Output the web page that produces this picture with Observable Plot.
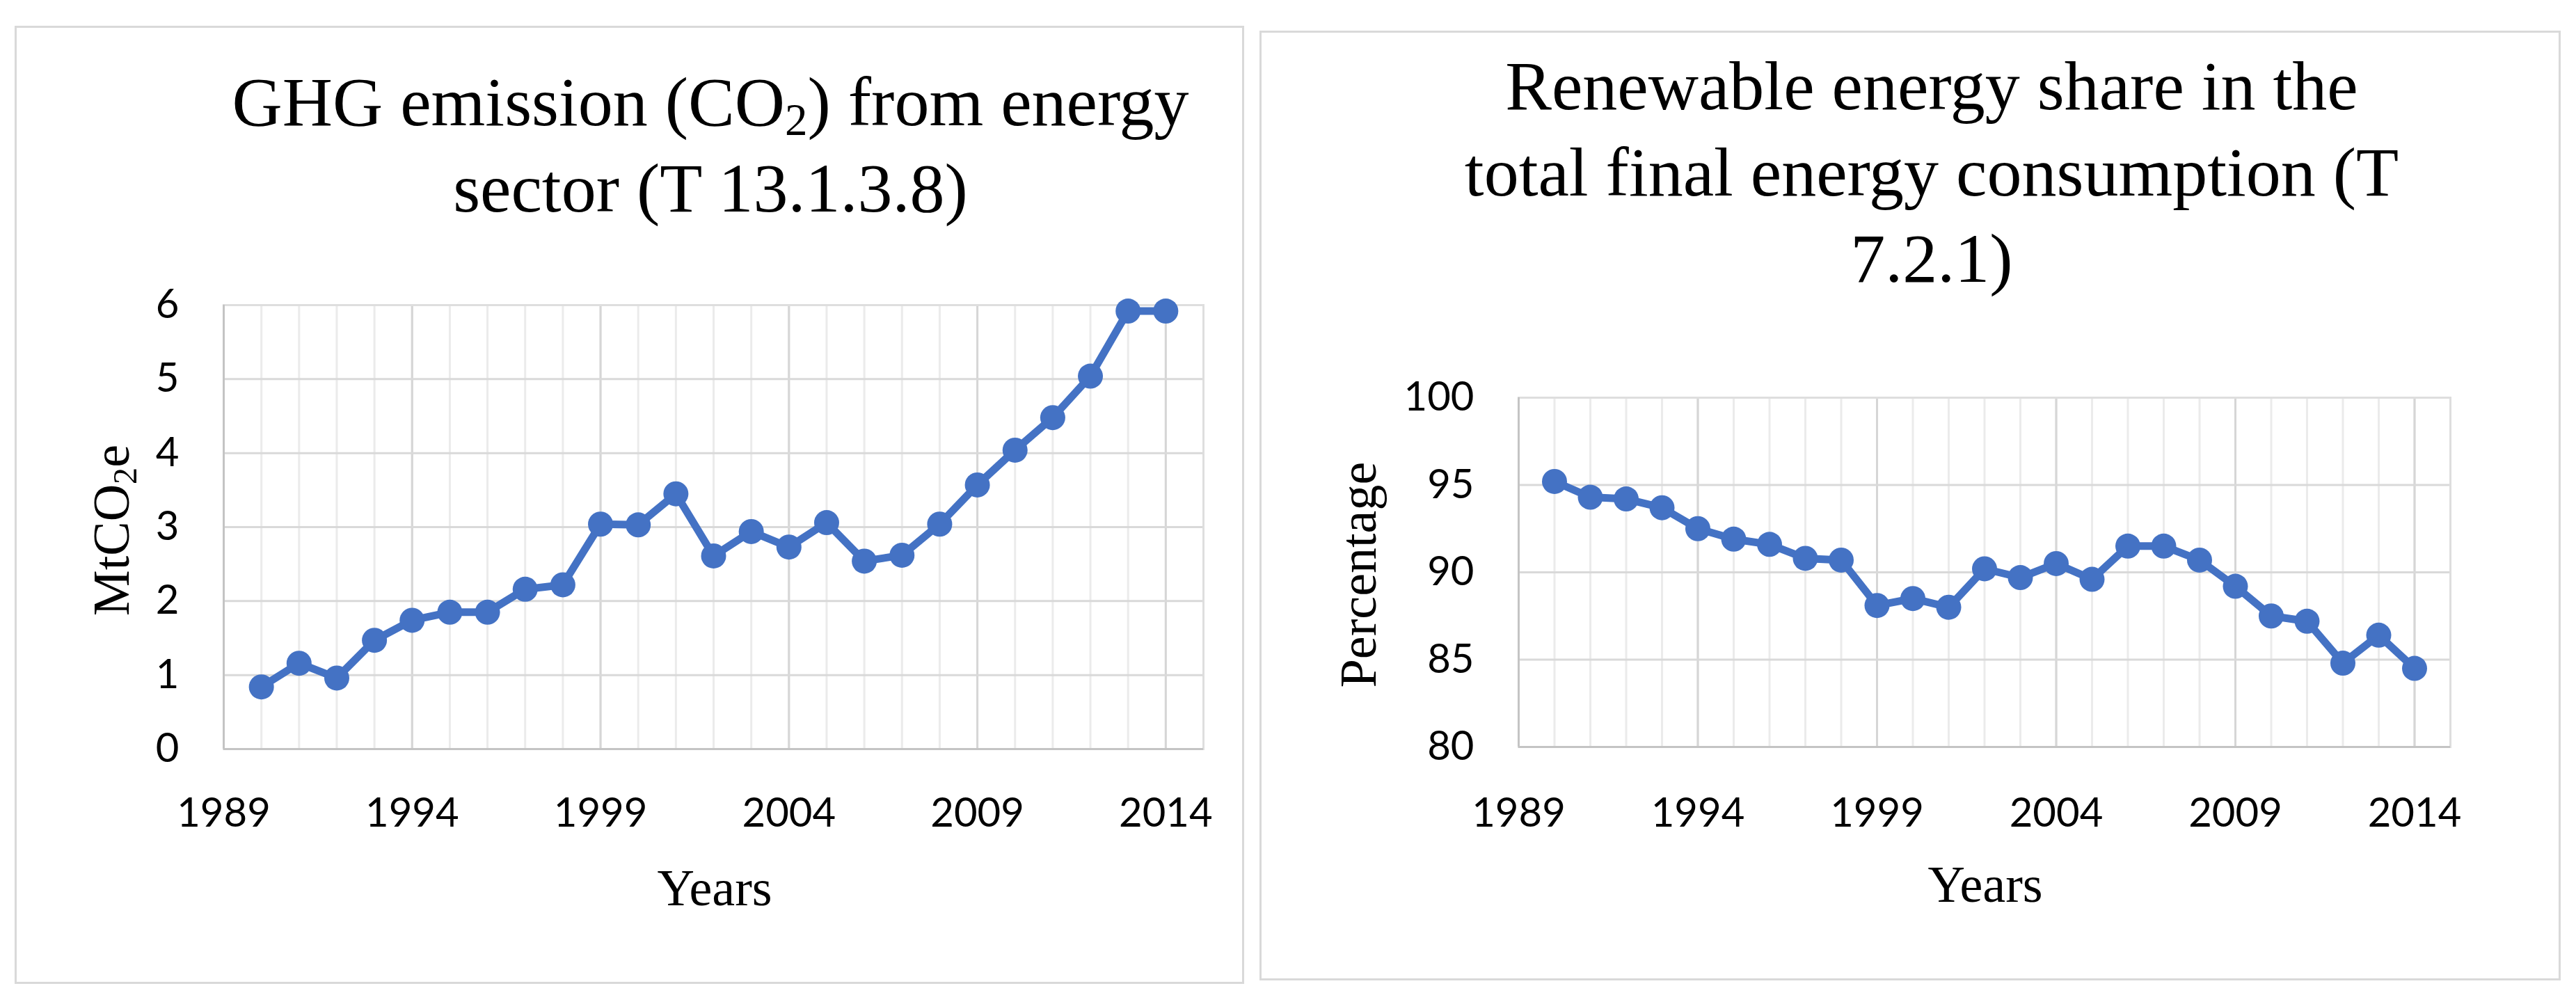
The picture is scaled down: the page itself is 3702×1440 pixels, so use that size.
<!DOCTYPE html>
<html>
<head>
<meta charset="utf-8">
<script src="https://cdn.jsdelivr.net/npm/d3@7"></script>
<script src="https://cdn.jsdelivr.net/npm/@observablehq/plot@0.6"></script>
<style>
html,body{margin:0;padding:0;background:#fff;}
#page{position:relative;width:3702px;height:1440px;overflow:hidden;background:#fff;}
.panel{position:absolute;border:3px solid #d9d9d9;box-sizing:border-box;}
.title{position:absolute;font-family:"Liberation Serif",serif;font-size:100px;line-height:124px;text-align:center;color:#000;white-space:nowrap;transform:translateX(-50%);}
.axt{position:absolute;font-family:"Liberation Serif",serif;font-size:74px;line-height:1;color:#000;white-space:nowrap;transform:translate(-50%,-50%);}
.rot{transform:translate(-50%,-50%) rotate(-90deg);}
sub{font-size:65%;line-height:0;position:relative;top:0.22em;vertical-align:baseline;}
.chart{position:absolute;}
</style>
</head>
<body>
<div id="page">
  <div class="panel" style="left:21px;top:37px;width:1767px;height:1377px;"></div>
  <div class="panel" style="left:1810px;top:44px;width:1870px;height:1365px;"></div>
  <div class="title" style="left:1021px;top:85px;">GHG emission (CO<sub>2</sub>) from energy<br>sector (T 13.1.3.8)</div>
  <div class="title" style="left:2776px;top:62px;">Renewable energy share in the<br>total final energy consumption (T<br>7.2.1)</div>
  <div class="axt rot" style="left:160px;top:762px;">MtCO<sub>2</sub>e</div>
  <div class="axt rot" style="left:1952px;top:826px;">Percentage</div>
  <div class="axt" style="left:1027px;top:1276px;">Years</div>
  <div class="axt" style="left:2853px;top:1271px;">Years</div>
  <div id="left" class="chart" style="left:24px;top:380px;"></div>
  <div id="right" class="chart" style="left:1810px;top:380px;"></div>
</div>
<script>
const years = [1990,1991,1992,1993,1994,1995,1996,1997,1998,1999,2000,2001,2002,2003,2004,2005,2006,2007,2008,2009,2010,2011,2012,2013,2014];
const ghgValues = [0.84,1.16,0.96,1.47,1.74,1.85,1.85,2.16,2.22,3.04,3.03,3.45,2.61,2.94,2.73,3.06,2.54,2.62,3.04,3.57,4.04,4.48,5.04,5.92,5.92];
const renewableValues = [95.2,94.3,94.2,93.7,92.5,91.9,91.6,90.8,90.7,88.1,88.5,88.0,90.2,89.7,90.5,89.6,91.5,91.5,90.7,89.2,87.5,87.2,84.8,86.4,84.5];
const xTicks = [1989,1994,1999,2004,2009,2014];
const ghgTicks = [0,1,2,3,4,5,6];
const renewTicks = [80,85,90,95,100];

function makeChart(values, yDomain, yTicks, dims) {
  const data = years.map((y, i) => ({year: y, value: values[i]}));
  return Plot.plot({
    width: dims.width,
    height: dims.height,
    marginLeft: dims.ml,
    marginRight: dims.mr,
    marginTop: dims.mt,
    marginBottom: dims.mb,
    style: {fontFamily: "Lato, sans-serif", fontSize: "58px", color: "#000", background: "transparent", overflow: "visible"},
    x: {domain: [1989, 2015]},
    y: {domain: yDomain},
    marks: [
      Plot.gridX(years, {stroke: "#ebebeb", strokeOpacity: 1, strokeWidth: 3}),
      Plot.gridX(xTicks, {stroke: "#d6d6d6", strokeOpacity: 1, strokeWidth: 3}),
      Plot.gridY(yTicks, {stroke: "#d9d9d9", strokeOpacity: 1, strokeWidth: 3}),
      Plot.frame({stroke: "#dedede", strokeWidth: 3}),
      Plot.ruleX([1989], {stroke: "#c4c4c4", strokeWidth: 3}),
      Plot.ruleY([yDomain[0]], {stroke: "#c4c4c4", strokeWidth: 3}),
      Plot.axisX(xTicks, {tickSize: 0, tickPadding: dims.xpad, tickFormat: d => String(d), label: null, fontFamily: "Lato, sans-serif", fontSize: 58, fill: "#000"}),
      Plot.axisY(yTicks, {tickSize: 0, tickPadding: 64, tickFormat: d => String(d), label: null, fontFamily: "Lato, sans-serif", fontSize: 58, fill: "#000"}),
      Plot.line(data, {x: "year", y: "value", stroke: "#4472C4", strokeWidth: 11}),
      Plot.dot(data, {x: "year", y: "value", r: 18, fill: "#4472C4", stroke: "none"})
    ]
  });
}

document.getElementById("left").appendChild(
  makeChart(ghgValues, [0, 6], ghgTicks, {width: 1759, height: 950, ml: 297, mr: 54, mt: 58, mb: 254, xpad: 70})
);
document.getElementById("right").appendChild(
  makeChart(renewableValues, [80, 100], renewTicks, {width: 1870, height: 950, ml: 372, mr: 159, mt: 191, mb: 257, xpad: 73})
);
</script>
</body>
</html>
